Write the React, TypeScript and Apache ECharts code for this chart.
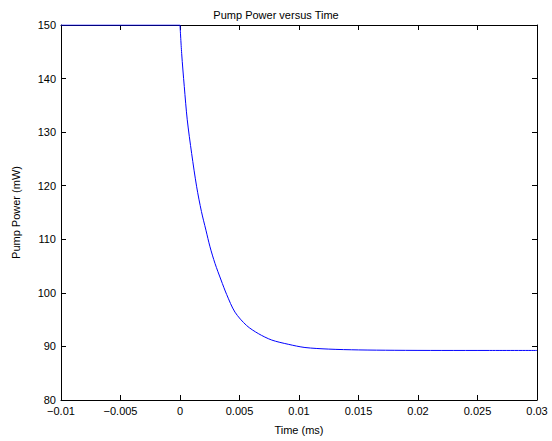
import React, { useEffect, useRef } from "react";
import * as echarts from "echarts";

const timeMs: number[] = [
  -0.01, 0, 0.00014, 0.00036, 0.00061, 0.00098, 0.0014, 0.0018, 0.00218, 0.00252,
  0.00294, 0.00345, 0.00392, 0.00462, 0.0056, 0.00658, 0.0077, 0.0091, 0.0105, 0.0125,
  0.015, 0.018, 0.022, 0.026, 0.03,
];
const pumpPowerMw: number[] = [
  150, 150, 144.7, 138.5, 132.3, 126.0, 119.8, 115.2, 111.7, 108.6,
  105.5, 102.4, 99.7, 96.4, 93.9, 92.4, 91.2, 90.4, 89.8, 89.5,
  89.35, 89.28, 89.25, 89.25, 89.25,
];
const xTickValues: number[] = [-0.01, -0.005, 0, 0.005, 0.01, 0.015, 0.02, 0.025, 0.03];
const xTickLabels: string[] = ["\u22120.01", "\u22120.005", "0", "0.005", "0.01", "0.015", "0.02", "0.025", "0.03"];
const yTickValues: number[] = [80, 90, 100, 110, 120, 130, 140, 150];
const yTickLabels: string[] = ["80", "90", "100", "110", "120", "130", "140", "150"];

const titleText = "Pump Power versus Time";
const xName = "Time (ms)";
const yName = "Pump Power (mW)";

const FONT = "'Liberation Sans', Arial, Helvetica, sans-serif";

function labelFor(values: number[], labels: string[]) {
  return (v: number) => {
    let best = 0;
    let bestD = Infinity;
    values.forEach((t, i) => {
      const d = Math.abs(t - v);
      if (d < bestD) {
        bestD = d;
        best = i;
      }
    });
    return labels[best];
  };
}

export default function App() {
  const ref = useRef<HTMLDivElement>(null);
  useEffect(() => {
    if (!ref.current) return;
    const chart = echarts.init(ref.current, undefined, { renderer: "svg" });
    const axisLine = { show: true, onZero: false, lineStyle: { color: "#000", width: 1 } };
    const axisTick = { show: true, inside: true, length: 5, lineStyle: { color: "#000", width: 1 } };
    const xBase = { type: "value" as const, min: -0.01, max: 0.03, interval: 0.005 };
    const yBase = { type: "value" as const, min: 80, max: 150, interval: 10 };
    const pairs = timeMs.map((t, i) => [t, pumpPowerMw[i]]);
    const before = pairs.filter((p) => p[0] <= 0);
    const after = pairs.filter((p) => p[0] >= 0);
    const lineStyle = { color: "#0000ff", width: 1 };
    chart.setOption({
      animation: false,
      backgroundColor: "#fff",
      title: {
        text: titleText,
        left: "center",
        top: 4,
        textStyle: { fontFamily: FONT, fontSize: 11, fontWeight: "normal", color: "#000" },
      },
      grid: { left: 61, right: 15, top: 25, bottom: 41, containLabel: false },
      xAxis: [
        {
          ...xBase,
          position: "bottom",
          name: xName,
          nameLocation: "middle",
          nameGap: 24,
          nameTextStyle: { fontFamily: FONT, fontSize: 11, color: "#000" },
          axisLine,
          axisTick,
          splitLine: { show: false },
          axisLabel: {
            show: true,
            showMinLabel: true,
            showMaxLabel: true,
            margin: 5,
            fontFamily: FONT,
            fontSize: 11,
            color: "#000",
            formatter: labelFor(xTickValues, xTickLabels),
          },
        },
        {
          ...xBase,
          position: "top",
          axisLine,
          axisTick,
          splitLine: { show: false },
          axisLabel: { show: false },
        },
      ],
      yAxis: [
        {
          ...yBase,
          position: "left",
          name: yName,
          nameLocation: "middle",
          nameGap: 40,
          nameTextStyle: { fontFamily: FONT, fontSize: 11, color: "#000" },
          axisLine,
          axisTick,
          splitLine: { show: false },
          axisLabel: {
            show: true,
            showMinLabel: true,
            showMaxLabel: true,
            margin: 5,
            fontFamily: FONT,
            fontSize: 11,
            color: "#000",
            formatter: labelFor(yTickValues, yTickLabels),
          },
        },
        {
          ...yBase,
          position: "right",
          axisLine,
          axisTick,
          splitLine: { show: false },
          axisLabel: { show: false },
        },
      ],
      series: [
        {
          type: "line",
          xAxisIndex: 0,
          yAxisIndex: 0,
          data: before,
          showSymbol: false,
          smooth: false,
          lineStyle,
          clip: true,
        },
        {
          type: "line",
          xAxisIndex: 0,
          yAxisIndex: 0,
          data: after,
          showSymbol: false,
          smooth: 0.3,
          lineStyle,
          clip: true,
        },
      ],
    });
    return () => chart.dispose();
  }, []);
  return (
    <div
      ref={ref}
      style={{ position: "fixed", left: 0, top: 0, width: 552, height: 441, background: "#fff" }}
    />
  );
}
